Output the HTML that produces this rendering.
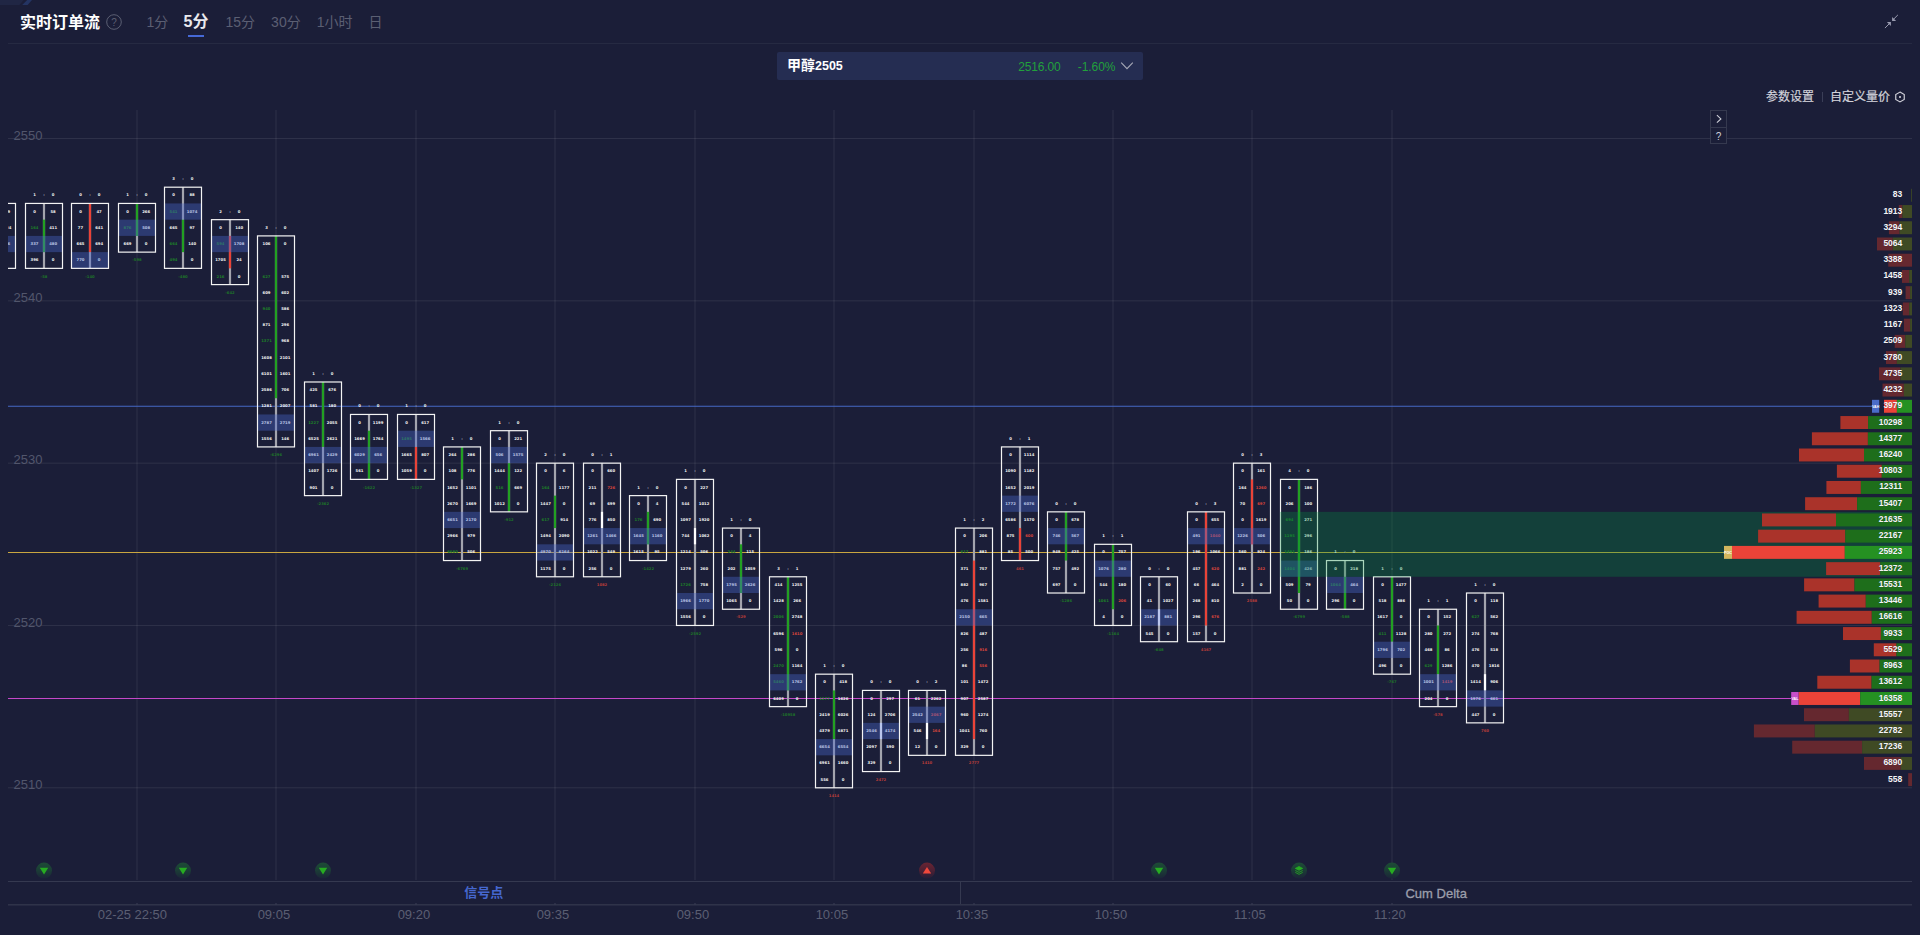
<!DOCTYPE html>
<html lang="zh-CN">
<head>
<meta charset="utf-8">
<title>实时订单流</title>
<style>
html,body{margin:0;padding:0;background:#1b1e38;}
body{width:1920px;height:935px;overflow:hidden;position:relative;font-family:"Liberation Sans","Noto Sans CJK SC",sans-serif;color:#fff;}
#chart{position:absolute;left:0;top:0;display:block;}
#chart .n text{font-family:"DejaVu Sans","Liberation Sans",sans-serif;font-weight:bold;font-size:3.8px;text-anchor:middle;}
#chart text.d{font-family:"DejaVu Sans","Liberation Sans",sans-serif;font-weight:bold;font-size:3.75px;text-anchor:middle;}
.hdr{position:absolute;left:0;top:0;width:1920px;height:44px;}
.hdr .line{position:absolute;left:8px;top:43px;width:1904px;height:1px;background:#262a42;}
.deco{position:absolute;left:0;top:0;}
.title{position:absolute;left:20px;top:10.5px;height:24px;line-height:24px;font-size:16px;font-weight:bold;color:#fff;letter-spacing:0;}
.qm{position:absolute;left:106px;top:14px;}
.tabs{position:absolute;left:146.5px;top:10px;height:24px;line-height:24px;font-size:14px;color:#5b5f73;white-space:nowrap;}
.tabs span{display:inline-block;margin-right:16px;position:relative;vertical-align:top;}
.tabs span.on{color:#e9e9ee;font-weight:bold;font-size:16px;margin-left:-0.7px;margin-right:17px;}
.tabs span.on i{position:absolute;left:50%;bottom:-3px;width:16px;height:2px;margin-left:-8.3px;background:#4669d6;}
.fold{position:absolute;left:1883px;top:13px;}
.sel{position:absolute;left:777px;top:52px;width:366px;height:28px;background:#252d52;border-radius:2px;}
.sel .nm{position:absolute;left:10px;top:0;line-height:27px;font-size:14px;font-weight:bold;color:#fff;}
.sel .nm b{font-size:12.5px;}
.sel .px{position:absolute;right:82.5px;top:0;line-height:31px;font-size:12px;letter-spacing:-0.15px;color:#22a03c;}
.sel .pc{position:absolute;right:27.5px;top:0;line-height:31px;font-size:12px;letter-spacing:-0.05px;color:#22a03c;}
.sel svg{position:absolute;left:343px;top:9px;}
.tools{position:absolute;right:0;top:88px;height:18px;line-height:18px;font-size:12px;color:#d2d2da;white-space:nowrap;-webkit-text-stroke:0.2px #d2d2da;}
.tools span{position:absolute;top:0;}
.btn{position:absolute;left:1710px;width:15px;height:15px;border:1px solid #35394f;background:#1b1e38;}
</style>
</head>
<body>
<svg id="chart" width="1920" height="935" viewBox="0 0 1920 935">
<defs><clipPath id="cp"><rect x="8" y="100" width="1904" height="790"/></clipPath><linearGradient id="gg" x1="0" y1="0" x2="0" y2="1"><stop offset="0" stop-color="#1d4c36"/><stop offset="0.5" stop-color="#1b3c36"/><stop offset="1" stop-color="#1b2438"/></linearGradient><linearGradient id="gr" x1="0" y1="0" x2="0" y2="1"><stop offset="0" stop-color="#6a2432"/><stop offset="0.5" stop-color="#4c2034"/><stop offset="1" stop-color="#241e38"/></linearGradient></defs>
<g stroke="#ffffff" stroke-opacity="0.085" stroke-width="1">
<line x1="8" y1="138.5" x2="1912" y2="138.5"/>
<line x1="8" y1="300.83" x2="1912" y2="300.83"/>
<line x1="8" y1="463.15" x2="1912" y2="463.15"/>
<line x1="8" y1="625.48" x2="1912" y2="625.48"/>
<line x1="8" y1="787.8" x2="1912" y2="787.8"/>
</g>
<g stroke="#ffffff" stroke-opacity="0.085" stroke-width="1">
<line x1="137" y1="110" x2="137" y2="880"/>
<line x1="276" y1="110" x2="276" y2="880"/>
<line x1="416" y1="110" x2="416" y2="880"/>
<line x1="555" y1="110" x2="555" y2="880"/>
<line x1="695" y1="110" x2="695" y2="880"/>
<line x1="834" y1="110" x2="834" y2="880"/>
<line x1="974" y1="110" x2="974" y2="880"/>
<line x1="1113" y1="110" x2="1113" y2="880"/>
<line x1="1252" y1="110" x2="1252" y2="880"/>
<line x1="1392" y1="110" x2="1392" y2="880"/>
</g>
<g font-family="'Liberation Sans', sans-serif" font-size="13" fill="#52566c">
<text x="13.6" y="140">2550</text>
<text x="13.6" y="302">2540</text>
<text x="13.6" y="464">2530</text>
<text x="13.6" y="627">2520</text>
<text x="13.6" y="789">2510</text>
</g>
<line x1="8" y1="406.34" x2="1872" y2="406.34" stroke="#4668c4" stroke-width="1.05"/>
<line x1="8" y1="552.43" x2="1724" y2="552.43" stroke="#c9a640" stroke-width="1.05"/>
<line x1="8" y1="698.52" x2="1791" y2="698.52" stroke="#c548c8" stroke-width="1.05"/>
<g clip-path="url(#cp)">
<g><rect x="-4.1" y="203.43" width="2.2" height="64.93" fill="#a3a4ad"/><g class="n"><text x="-12.5" y="213" fill="#f2f2f2">0</text><text x="6.1" y="213" fill="#f2f2f2">159</text><text x="-12.5" y="229" fill="#f2f2f2">52</text><text x="6.1" y="229" fill="#f2f2f2">1824</text><text x="-12.5" y="245" fill="#f2f2f2">120</text><text x="6.1" y="245" fill="#f2f2f2">386</text><text x="-12.5" y="261" fill="#f2f2f2">77</text><text x="6.1" y="261" fill="#f2f2f2">0</text></g><rect x="-21.5" y="235.9" width="37" height="16.23" fill="#4a6ad0" fill-opacity="0.38"/><rect x="-21.5" y="203.43" width="37" height="64.93" fill="none" stroke="#f4f4f4" stroke-width="1.2"/></g>
<g><rect x="42.9" y="203.43" width="2.2" height="64.93" fill="#a3a4ad"/><rect x="42.9" y="219.66" width="2.2" height="32.47" fill="#22a022"/><g class="n"><text x="34.5" y="213" fill="#f2f2f2">0</text><text x="53.1" y="213" fill="#f2f2f2">58</text><text x="34.5" y="229" fill="#1d7f28">164</text><text x="53.1" y="229" fill="#f2f2f2">411</text><text x="34.5" y="245" fill="#f2f2f2">337</text><text x="53.1" y="245" fill="#f2f2f2">480</text><text x="34.5" y="261" fill="#f2f2f2">396</text><text x="53.1" y="261" fill="#f2f2f2">0</text></g><rect x="25.5" y="235.9" width="37" height="16.23" fill="#4a6ad0" fill-opacity="0.38"/><rect x="25.5" y="203.43" width="37" height="64.93" fill="none" stroke="#f4f4f4" stroke-width="1.2"/><g class="n"><text x="34.5" y="196" fill="#f2f2f2">1</text><text x="44" y="196" fill="#9a9dad">:</text><text x="53.1" y="196" fill="#f2f2f2">0</text></g><text class="d" x="44" y="278" fill="#1e7428">-58</text></g>
<g><rect x="88.9" y="203.43" width="2.2" height="64.93" fill="#a3a4ad"/><rect x="88.9" y="203.43" width="2.2" height="48.7" fill="#ea4338"/><g class="n"><text x="80.5" y="213" fill="#f2f2f2">0</text><text x="99.1" y="213" fill="#f2f2f2">47</text><text x="80.5" y="229" fill="#f2f2f2">77</text><text x="99.1" y="229" fill="#f2f2f2">641</text><text x="80.5" y="245" fill="#f2f2f2">665</text><text x="99.1" y="245" fill="#f2f2f2">694</text><text x="80.5" y="261" fill="#f2f2f2">770</text><text x="99.1" y="261" fill="#f2f2f2">0</text></g><rect x="71.5" y="252.13" width="37" height="16.23" fill="#4a6ad0" fill-opacity="0.38"/><rect x="71.5" y="203.43" width="37" height="64.93" fill="none" stroke="#f4f4f4" stroke-width="1.2"/><g class="n"><text x="80.5" y="196" fill="#f2f2f2">0</text><text x="90" y="196" fill="#9a9dad">:</text><text x="99.1" y="196" fill="#f2f2f2">0</text></g><text class="d" x="90" y="278" fill="#1e7428">-140</text></g>
<g><rect x="135.9" y="203.43" width="2.2" height="48.7" fill="#a3a4ad"/><rect x="135.9" y="203.43" width="2.2" height="32.47" fill="#22a022"/><g class="n"><text x="127.5" y="213" fill="#f2f2f2">0</text><text x="146.1" y="213" fill="#f2f2f2">266</text><text x="127.5" y="229" fill="#1d7f28">876</text><text x="146.1" y="229" fill="#f2f2f2">508</text><text x="127.5" y="245" fill="#f2f2f2">669</text><text x="146.1" y="245" fill="#f2f2f2">0</text></g><rect x="118.5" y="219.66" width="37" height="16.23" fill="#4a6ad0" fill-opacity="0.38"/><rect x="118.5" y="203.43" width="37" height="48.7" fill="none" stroke="#f4f4f4" stroke-width="1.2"/><g class="n"><text x="127.5" y="196" fill="#f2f2f2">1</text><text x="137" y="196" fill="#9a9dad">:</text><text x="146.1" y="196" fill="#f2f2f2">0</text></g><text class="d" x="137" y="261" fill="#1e7428">-598</text></g>
<g><rect x="181.9" y="187.2" width="2.2" height="81.16" fill="#a3a4ad"/><rect x="181.9" y="219.66" width="2.2" height="32.47" fill="#22a022"/><g class="n"><text x="173.5" y="196" fill="#f2f2f2">0</text><text x="192.1" y="196" fill="#f2f2f2">88</text><text x="173.5" y="213" fill="#1d7f28">541</text><text x="192.1" y="213" fill="#f2f2f2">1074</text><text x="173.5" y="229" fill="#f2f2f2">665</text><text x="192.1" y="229" fill="#f2f2f2">97</text><text x="173.5" y="245" fill="#1d7f28">664</text><text x="192.1" y="245" fill="#f2f2f2">140</text><text x="173.5" y="261" fill="#1d7f28">494</text><text x="192.1" y="261" fill="#f2f2f2">0</text></g><rect x="164.5" y="203.43" width="37" height="16.23" fill="#4a6ad0" fill-opacity="0.38"/><rect x="164.5" y="187.2" width="37" height="81.16" fill="none" stroke="#f4f4f4" stroke-width="1.2"/><g class="n"><text x="173.5" y="180" fill="#f2f2f2">3</text><text x="183" y="180" fill="#9a9dad">:</text><text x="192.1" y="180" fill="#f2f2f2">0</text></g><text class="d" x="183" y="278" fill="#1e7428">-480</text></g>
<g><rect x="228.9" y="219.66" width="2.2" height="64.93" fill="#a3a4ad"/><rect x="228.9" y="235.9" width="2.2" height="32.47" fill="#ea4338"/><g class="n"><text x="220.5" y="229" fill="#f2f2f2">0</text><text x="239.1" y="229" fill="#f2f2f2">140</text><text x="220.5" y="245" fill="#1d7f28">594</text><text x="239.1" y="245" fill="#f2f2f2">1708</text><text x="220.5" y="261" fill="#f2f2f2">1705</text><text x="239.1" y="261" fill="#f2f2f2">24</text><text x="220.5" y="278" fill="#1d7f28">216</text><text x="239.1" y="278" fill="#f2f2f2">0</text></g><rect x="211.5" y="235.9" width="37" height="16.23" fill="#4a6ad0" fill-opacity="0.38"/><rect x="211.5" y="219.66" width="37" height="64.93" fill="none" stroke="#f4f4f4" stroke-width="1.2"/><g class="n"><text x="220.5" y="213" fill="#f2f2f2">2</text><text x="230" y="213" fill="#9a9dad">:</text><text x="239.1" y="213" fill="#f2f2f2">0</text></g><text class="d" x="230" y="294" fill="#1e7428">-642</text></g>
<g><rect x="274.9" y="235.9" width="2.2" height="211.02" fill="#a3a4ad"/><rect x="274.9" y="235.9" width="2.2" height="162.33" fill="#22a022"/><g class="n"><text x="266.5" y="245" fill="#f2f2f2">106</text><text x="285.1" y="245" fill="#f2f2f2">0</text><text x="266.5" y="278" fill="#1d7f28">627</text><text x="285.1" y="278" fill="#f2f2f2">575</text><text x="266.5" y="294" fill="#f2f2f2">609</text><text x="285.1" y="294" fill="#f2f2f2">602</text><text x="266.5" y="310" fill="#1d7f28">940</text><text x="285.1" y="310" fill="#f2f2f2">586</text><text x="266.5" y="326" fill="#f2f2f2">871</text><text x="285.1" y="326" fill="#f2f2f2">296</text><text x="266.5" y="342" fill="#1d7f28">1371</text><text x="285.1" y="342" fill="#f2f2f2">968</text><text x="266.5" y="359" fill="#f2f2f2">1608</text><text x="285.1" y="359" fill="#f2f2f2">2101</text><text x="266.5" y="375" fill="#f2f2f2">6101</text><text x="285.1" y="375" fill="#f2f2f2">1601</text><text x="266.5" y="391" fill="#f2f2f2">2586</text><text x="285.1" y="391" fill="#f2f2f2">706</text><text x="266.5" y="407" fill="#f2f2f2">1281</text><text x="285.1" y="407" fill="#f2f2f2">2007</text><text x="266.5" y="424" fill="#f2f2f2">2787</text><text x="285.1" y="424" fill="#f2f2f2">2719</text><text x="266.5" y="440" fill="#f2f2f2">1556</text><text x="285.1" y="440" fill="#f2f2f2">146</text></g><rect x="257.5" y="414.45" width="37" height="16.23" fill="#4a6ad0" fill-opacity="0.38"/><rect x="257.5" y="235.9" width="37" height="211.02" fill="none" stroke="#f4f4f4" stroke-width="1.2"/><g class="n"><text x="266.5" y="229" fill="#f2f2f2">3</text><text x="276" y="229" fill="#9a9dad">:</text><text x="285.1" y="229" fill="#f2f2f2">0</text></g><text class="d" x="276" y="456" fill="#1e7428">-6296</text></g>
<g><rect x="321.9" y="381.99" width="2.2" height="113.63" fill="#a3a4ad"/><rect x="321.9" y="381.99" width="2.2" height="64.93" fill="#22a022"/><g class="n"><text x="313.5" y="391" fill="#f2f2f2">425</text><text x="332.1" y="391" fill="#f2f2f2">676</text><text x="313.5" y="407" fill="#f2f2f2">581</text><text x="332.1" y="407" fill="#f2f2f2">180</text><text x="313.5" y="424" fill="#1d7f28">1227</text><text x="332.1" y="424" fill="#f2f2f2">2055</text><text x="313.5" y="440" fill="#f2f2f2">6525</text><text x="332.1" y="440" fill="#f2f2f2">2621</text><text x="313.5" y="456" fill="#f2f2f2">6961</text><text x="332.1" y="456" fill="#f2f2f2">2429</text><text x="313.5" y="472" fill="#f2f2f2">1407</text><text x="332.1" y="472" fill="#f2f2f2">1726</text><text x="313.5" y="489" fill="#f2f2f2">901</text><text x="332.1" y="489" fill="#f2f2f2">0</text></g><rect x="304.5" y="446.92" width="37" height="16.23" fill="#4a6ad0" fill-opacity="0.38"/><rect x="304.5" y="381.99" width="37" height="113.63" fill="none" stroke="#f4f4f4" stroke-width="1.2"/><g class="n"><text x="313.5" y="375" fill="#f2f2f2">1</text><text x="323" y="375" fill="#9a9dad">:</text><text x="332.1" y="375" fill="#f2f2f2">0</text></g><text class="d" x="323" y="505" fill="#1e7428">-2362</text></g>
<g><rect x="367.9" y="414.45" width="2.2" height="64.93" fill="#a3a4ad"/><rect x="367.9" y="430.69" width="2.2" height="48.7" fill="#22a022"/><g class="n"><text x="359.5" y="424" fill="#f2f2f2">0</text><text x="378.1" y="424" fill="#f2f2f2">1199</text><text x="359.5" y="440" fill="#f2f2f2">1669</text><text x="378.1" y="440" fill="#f2f2f2">1764</text><text x="359.5" y="456" fill="#f2f2f2">6029</text><text x="378.1" y="456" fill="#f2f2f2">656</text><text x="359.5" y="472" fill="#f2f2f2">561</text><text x="378.1" y="472" fill="#f2f2f2">0</text></g><rect x="350.5" y="446.92" width="37" height="16.23" fill="#4a6ad0" fill-opacity="0.38"/><rect x="350.5" y="414.45" width="37" height="64.93" fill="none" stroke="#f4f4f4" stroke-width="1.2"/><g class="n"><text x="359.5" y="407" fill="#f2f2f2">0</text><text x="369" y="407" fill="#9a9dad">:</text><text x="378.1" y="407" fill="#f2f2f2">0</text></g><text class="d" x="369" y="489" fill="#1e7428">-1622</text></g>
<g><rect x="414.9" y="414.45" width="2.2" height="64.93" fill="#a3a4ad"/><rect x="414.9" y="446.92" width="2.2" height="32.47" fill="#ea4338"/><g class="n"><text x="406.5" y="424" fill="#f2f2f2">0</text><text x="425.1" y="424" fill="#f2f2f2">617</text><text x="406.5" y="440" fill="#1d7f28">1495</text><text x="425.1" y="440" fill="#f2f2f2">1566</text><text x="406.5" y="456" fill="#f2f2f2">1665</text><text x="425.1" y="456" fill="#f2f2f2">807</text><text x="406.5" y="472" fill="#f2f2f2">1059</text><text x="425.1" y="472" fill="#f2f2f2">0</text></g><rect x="397.5" y="430.69" width="37" height="16.23" fill="#4a6ad0" fill-opacity="0.38"/><rect x="397.5" y="414.45" width="37" height="64.93" fill="none" stroke="#f4f4f4" stroke-width="1.2"/><g class="n"><text x="406.5" y="407" fill="#f2f2f2">1</text><text x="416" y="407" fill="#9a9dad">:</text><text x="425.1" y="407" fill="#f2f2f2">0</text></g><text class="d" x="416" y="489" fill="#1e7428">-1327</text></g>
<g><rect x="460.9" y="446.92" width="2.2" height="113.63" fill="#a3a4ad"/><rect x="460.9" y="446.92" width="2.2" height="32.47" fill="#22a022"/><g class="n"><text x="452.5" y="456" fill="#f2f2f2">264</text><text x="471.1" y="456" fill="#f2f2f2">286</text><text x="452.5" y="472" fill="#f2f2f2">108</text><text x="471.1" y="472" fill="#f2f2f2">776</text><text x="452.5" y="489" fill="#f2f2f2">1652</text><text x="471.1" y="489" fill="#f2f2f2">1101</text><text x="452.5" y="505" fill="#f2f2f2">2670</text><text x="471.1" y="505" fill="#f2f2f2">1669</text><text x="452.5" y="521" fill="#f2f2f2">6651</text><text x="471.1" y="521" fill="#f2f2f2">2170</text><text x="452.5" y="537" fill="#f2f2f2">2966</text><text x="471.1" y="537" fill="#f2f2f2">979</text><text x="452.5" y="553" fill="#1d7f28">6680</text><text x="471.1" y="553" fill="#f2f2f2">506</text></g><rect x="443.5" y="511.85" width="37" height="16.23" fill="#4a6ad0" fill-opacity="0.38"/><rect x="443.5" y="446.92" width="37" height="113.63" fill="none" stroke="#f4f4f4" stroke-width="1.2"/><g class="n"><text x="452.5" y="440" fill="#f2f2f2">1</text><text x="462" y="440" fill="#9a9dad">:</text><text x="471.1" y="440" fill="#f2f2f2">0</text></g><text class="d" x="462" y="570" fill="#1e7428">-6769</text></g>
<g><rect x="507.9" y="430.69" width="2.2" height="81.16" fill="#a3a4ad"/><rect x="507.9" y="463.15" width="2.2" height="48.7" fill="#22a022"/><g class="n"><text x="499.5" y="440" fill="#f2f2f2">0</text><text x="518.1" y="440" fill="#f2f2f2">221</text><text x="499.5" y="456" fill="#f2f2f2">506</text><text x="518.1" y="456" fill="#f2f2f2">1575</text><text x="499.5" y="472" fill="#f2f2f2">1444</text><text x="518.1" y="472" fill="#f2f2f2">122</text><text x="499.5" y="489" fill="#1d7f28">516</text><text x="518.1" y="489" fill="#f2f2f2">669</text><text x="499.5" y="505" fill="#f2f2f2">1012</text><text x="518.1" y="505" fill="#f2f2f2">0</text></g><rect x="490.5" y="446.92" width="37" height="16.23" fill="#4a6ad0" fill-opacity="0.38"/><rect x="490.5" y="430.69" width="37" height="81.16" fill="none" stroke="#f4f4f4" stroke-width="1.2"/><g class="n"><text x="499.5" y="424" fill="#f2f2f2">1</text><text x="509" y="424" fill="#9a9dad">:</text><text x="518.1" y="424" fill="#f2f2f2">0</text></g><text class="d" x="509" y="521" fill="#1e7428">-912</text></g>
<g><rect x="553.9" y="463.15" width="2.2" height="113.63" fill="#a3a4ad"/><rect x="553.9" y="495.62" width="2.2" height="32.47" fill="#22a022"/><g class="n"><text x="545.5" y="472" fill="#f2f2f2">0</text><text x="564.1" y="472" fill="#f2f2f2">6</text><text x="545.5" y="489" fill="#1d7f28">164</text><text x="564.1" y="489" fill="#f2f2f2">1177</text><text x="545.5" y="505" fill="#f2f2f2">1447</text><text x="564.1" y="505" fill="#f2f2f2">0</text><text x="545.5" y="521" fill="#1d7f28">617</text><text x="564.1" y="521" fill="#f2f2f2">914</text><text x="545.5" y="537" fill="#f2f2f2">1494</text><text x="564.1" y="537" fill="#f2f2f2">2090</text><text x="545.5" y="553" fill="#f2f2f2">4970</text><text x="564.1" y="553" fill="#f2f2f2">6164</text><text x="545.5" y="570" fill="#f2f2f2">1175</text><text x="564.1" y="570" fill="#f2f2f2">0</text></g><rect x="536.5" y="544.31" width="37" height="16.23" fill="#4a6ad0" fill-opacity="0.38"/><rect x="536.5" y="463.15" width="37" height="113.63" fill="none" stroke="#f4f4f4" stroke-width="1.2"/><g class="n"><text x="545.5" y="456" fill="#f2f2f2">2</text><text x="555" y="456" fill="#9a9dad">:</text><text x="564.1" y="456" fill="#f2f2f2">0</text></g><text class="d" x="555" y="586" fill="#1e7428">-2126</text></g>
<g><rect x="600.9" y="463.15" width="2.2" height="113.63" fill="#a3a4ad"/><rect x="600.9" y="511.85" width="2.2" height="16.23" fill="#ffffff"/><g class="n"><text x="592.5" y="472" fill="#f2f2f2">0</text><text x="611.1" y="472" fill="#f2f2f2">660</text><text x="592.5" y="489" fill="#f2f2f2">211</text><text x="611.1" y="489" fill="#d8453c">726</text><text x="592.5" y="505" fill="#f2f2f2">69</text><text x="611.1" y="505" fill="#f2f2f2">699</text><text x="592.5" y="521" fill="#f2f2f2">776</text><text x="611.1" y="521" fill="#f2f2f2">850</text><text x="592.5" y="537" fill="#f2f2f2">1261</text><text x="611.1" y="537" fill="#f2f2f2">1466</text><text x="592.5" y="553" fill="#f2f2f2">1022</text><text x="611.1" y="553" fill="#f2f2f2">549</text><text x="592.5" y="570" fill="#f2f2f2">256</text><text x="611.1" y="570" fill="#f2f2f2">0</text></g><rect x="583.5" y="528.08" width="37" height="16.23" fill="#4a6ad0" fill-opacity="0.38"/><rect x="583.5" y="463.15" width="37" height="113.63" fill="none" stroke="#f4f4f4" stroke-width="1.2"/><g class="n"><text x="592.5" y="456" fill="#f2f2f2">0</text><text x="602" y="456" fill="#9a9dad">:</text><text x="611.1" y="456" fill="#f2f2f2">1</text></g><text class="d" x="602" y="586" fill="#b93d38">1082</text></g>
<g><rect x="646.9" y="495.62" width="2.2" height="64.93" fill="#a3a4ad"/><rect x="646.9" y="511.85" width="2.2" height="32.47" fill="#22a022"/><g class="n"><text x="638.5" y="505" fill="#f2f2f2">0</text><text x="657.1" y="505" fill="#f2f2f2">4</text><text x="638.5" y="521" fill="#1d7f28">176</text><text x="657.1" y="521" fill="#f2f2f2">690</text><text x="638.5" y="537" fill="#f2f2f2">1645</text><text x="657.1" y="537" fill="#f2f2f2">1160</text><text x="638.5" y="553" fill="#f2f2f2">1615</text><text x="657.1" y="553" fill="#f2f2f2">95</text></g><rect x="629.5" y="528.08" width="37" height="16.23" fill="#4a6ad0" fill-opacity="0.38"/><rect x="629.5" y="495.62" width="37" height="64.93" fill="none" stroke="#f4f4f4" stroke-width="1.2"/><g class="n"><text x="638.5" y="489" fill="#f2f2f2">1</text><text x="648" y="489" fill="#9a9dad">:</text><text x="657.1" y="489" fill="#f2f2f2">0</text></g><text class="d" x="648" y="570" fill="#1e7428">-1422</text></g>
<g><rect x="693.9" y="479.38" width="2.2" height="146.09" fill="#a3a4ad"/><rect x="693.9" y="528.08" width="2.2" height="16.23" fill="#ffffff"/><g class="n"><text x="685.5" y="489" fill="#f2f2f2">0</text><text x="704.1" y="489" fill="#f2f2f2">227</text><text x="685.5" y="505" fill="#f2f2f2">544</text><text x="704.1" y="505" fill="#f2f2f2">1012</text><text x="685.5" y="521" fill="#f2f2f2">1097</text><text x="704.1" y="521" fill="#f2f2f2">1920</text><text x="685.5" y="537" fill="#f2f2f2">744</text><text x="704.1" y="537" fill="#f2f2f2">1062</text><text x="685.5" y="553" fill="#f2f2f2">1214</text><text x="704.1" y="553" fill="#f2f2f2">506</text><text x="685.5" y="570" fill="#f2f2f2">1279</text><text x="704.1" y="570" fill="#f2f2f2">260</text><text x="685.5" y="586" fill="#1d7f28">1726</text><text x="704.1" y="586" fill="#f2f2f2">758</text><text x="685.5" y="602" fill="#f2f2f2">1966</text><text x="704.1" y="602" fill="#f2f2f2">1770</text><text x="685.5" y="618" fill="#f2f2f2">1556</text><text x="704.1" y="618" fill="#f2f2f2">0</text></g><rect x="676.5" y="593.01" width="37" height="16.23" fill="#4a6ad0" fill-opacity="0.38"/><rect x="676.5" y="479.38" width="37" height="146.09" fill="none" stroke="#f4f4f4" stroke-width="1.2"/><g class="n"><text x="685.5" y="472" fill="#f2f2f2">1</text><text x="695" y="472" fill="#9a9dad">:</text><text x="704.1" y="472" fill="#f2f2f2">0</text></g><text class="d" x="695" y="635" fill="#1e7428">-2592</text></g>
<g><rect x="739.9" y="528.08" width="2.2" height="81.16" fill="#a3a4ad"/><rect x="739.9" y="544.31" width="2.2" height="48.7" fill="#22a022"/><g class="n"><text x="731.5" y="537" fill="#f2f2f2">0</text><text x="750.1" y="537" fill="#f2f2f2">4</text><text x="731.5" y="553" fill="#1d7f28">244</text><text x="750.1" y="553" fill="#f2f2f2">115</text><text x="731.5" y="570" fill="#f2f2f2">202</text><text x="750.1" y="570" fill="#f2f2f2">1059</text><text x="731.5" y="586" fill="#f2f2f2">1795</text><text x="750.1" y="586" fill="#f2f2f2">2626</text><text x="731.5" y="602" fill="#f2f2f2">1065</text><text x="750.1" y="602" fill="#f2f2f2">0</text></g><rect x="722.5" y="576.78" width="37" height="16.23" fill="#4a6ad0" fill-opacity="0.38"/><rect x="722.5" y="528.08" width="37" height="81.16" fill="none" stroke="#f4f4f4" stroke-width="1.2"/><g class="n"><text x="731.5" y="521" fill="#f2f2f2">1</text><text x="741" y="521" fill="#9a9dad">:</text><text x="750.1" y="521" fill="#f2f2f2">0</text></g><text class="d" x="741" y="618" fill="#b93d38">-529</text></g>
<g><rect x="786.9" y="576.78" width="2.2" height="129.86" fill="#a3a4ad"/><rect x="786.9" y="576.78" width="2.2" height="113.63" fill="#22a022"/><g class="n"><text x="778.5" y="586" fill="#f2f2f2">414</text><text x="797.1" y="586" fill="#f2f2f2">1255</text><text x="778.5" y="602" fill="#f2f2f2">1428</text><text x="797.1" y="602" fill="#f2f2f2">266</text><text x="778.5" y="618" fill="#1d7f28">2006</text><text x="797.1" y="618" fill="#f2f2f2">2748</text><text x="778.5" y="635" fill="#f2f2f2">6596</text><text x="797.1" y="635" fill="#d8453c">1610</text><text x="778.5" y="651" fill="#f2f2f2">596</text><text x="797.1" y="651" fill="#f2f2f2">0</text><text x="778.5" y="667" fill="#1d7f28">2470</text><text x="797.1" y="667" fill="#f2f2f2">1164</text><text x="778.5" y="683" fill="#1d7f28">5460</text><text x="797.1" y="683" fill="#f2f2f2">1762</text><text x="778.5" y="700" fill="#f2f2f2">6409</text><text x="797.1" y="700" fill="#f2f2f2">0</text></g><rect x="769.5" y="674.17" width="37" height="16.23" fill="#4a6ad0" fill-opacity="0.38"/><rect x="769.5" y="576.78" width="37" height="129.86" fill="none" stroke="#f4f4f4" stroke-width="1.2"/><g class="n"><text x="778.5" y="570" fill="#f2f2f2">3</text><text x="788" y="570" fill="#9a9dad">:</text><text x="797.1" y="570" fill="#f2f2f2">1</text></g><text class="d" x="788" y="716" fill="#1e7428">-10958</text></g>
<g><rect x="832.9" y="674.17" width="2.2" height="113.63" fill="#a3a4ad"/><rect x="832.9" y="690.4" width="2.2" height="48.7" fill="#22a022"/><g class="n"><text x="824.5" y="683" fill="#f2f2f2">0</text><text x="843.1" y="683" fill="#f2f2f2">418</text><text x="824.5" y="700" fill="#1d7f28">1277</text><text x="843.1" y="700" fill="#f2f2f2">1626</text><text x="824.5" y="716" fill="#f2f2f2">2419</text><text x="843.1" y="716" fill="#f2f2f2">6026</text><text x="824.5" y="732" fill="#f2f2f2">4379</text><text x="843.1" y="732" fill="#f2f2f2">6871</text><text x="824.5" y="748" fill="#f2f2f2">6654</text><text x="843.1" y="748" fill="#f2f2f2">6554</text><text x="824.5" y="764" fill="#f2f2f2">6961</text><text x="843.1" y="764" fill="#f2f2f2">1660</text><text x="824.5" y="781" fill="#f2f2f2">556</text><text x="843.1" y="781" fill="#f2f2f2">0</text></g><rect x="815.5" y="739.1" width="37" height="16.23" fill="#4a6ad0" fill-opacity="0.38"/><rect x="815.5" y="674.17" width="37" height="113.63" fill="none" stroke="#f4f4f4" stroke-width="1.2"/><g class="n"><text x="824.5" y="667" fill="#f2f2f2">1</text><text x="834" y="667" fill="#9a9dad">:</text><text x="843.1" y="667" fill="#f2f2f2">0</text></g><text class="d" x="834" y="797" fill="#b93d38">1414</text></g>
<g><rect x="879.9" y="690.41" width="2.2" height="81.16" fill="#a3a4ad"/><rect x="879.9" y="722.87" width="2.2" height="16.23" fill="#ffffff"/><g class="n"><text x="871.5" y="700" fill="#f2f2f2">0</text><text x="890.1" y="700" fill="#f2f2f2">297</text><text x="871.5" y="716" fill="#f2f2f2">124</text><text x="890.1" y="716" fill="#f2f2f2">2706</text><text x="871.5" y="732" fill="#f2f2f2">2546</text><text x="890.1" y="732" fill="#f2f2f2">4174</text><text x="871.5" y="748" fill="#f2f2f2">2097</text><text x="890.1" y="748" fill="#f2f2f2">590</text><text x="871.5" y="764" fill="#f2f2f2">329</text><text x="890.1" y="764" fill="#f2f2f2">0</text></g><rect x="862.5" y="722.87" width="37" height="16.23" fill="#4a6ad0" fill-opacity="0.38"/><rect x="862.5" y="690.41" width="37" height="81.16" fill="none" stroke="#f4f4f4" stroke-width="1.2"/><g class="n"><text x="871.5" y="683" fill="#f2f2f2">0</text><text x="881" y="683" fill="#9a9dad">:</text><text x="890.1" y="683" fill="#f2f2f2">0</text></g><text class="d" x="881" y="781" fill="#b93d38">2472</text></g>
<g><rect x="925.9" y="690.41" width="2.2" height="64.93" fill="#a3a4ad"/><rect x="925.9" y="722.87" width="2.2" height="16.23" fill="#ffffff"/><g class="n"><text x="917.5" y="700" fill="#f2f2f2">61</text><text x="936.1" y="700" fill="#f2f2f2">2262</text><text x="917.5" y="716" fill="#f2f2f2">2542</text><text x="936.1" y="716" fill="#d8453c">2067</text><text x="917.5" y="732" fill="#f2f2f2">546</text><text x="936.1" y="732" fill="#d8453c">164</text><text x="917.5" y="748" fill="#f2f2f2">12</text><text x="936.1" y="748" fill="#f2f2f2">0</text></g><rect x="908.5" y="706.64" width="37" height="16.23" fill="#4a6ad0" fill-opacity="0.38"/><rect x="908.5" y="690.41" width="37" height="64.93" fill="none" stroke="#f4f4f4" stroke-width="1.2"/><g class="n"><text x="917.5" y="683" fill="#f2f2f2">0</text><text x="927" y="683" fill="#9a9dad">:</text><text x="936.1" y="683" fill="#f2f2f2">2</text></g><text class="d" x="927" y="764" fill="#b93d38">1410</text></g>
<g><rect x="972.9" y="528.08" width="2.2" height="227.26" fill="#a3a4ad"/><rect x="972.9" y="560.55" width="2.2" height="178.56" fill="#ea4338"/><g class="n"><text x="964.5" y="537" fill="#f2f2f2">0</text><text x="983.1" y="537" fill="#f2f2f2">206</text><text x="964.5" y="553" fill="#1d7f28">617</text><text x="983.1" y="553" fill="#f2f2f2">881</text><text x="964.5" y="570" fill="#f2f2f2">371</text><text x="983.1" y="570" fill="#f2f2f2">757</text><text x="964.5" y="586" fill="#f2f2f2">882</text><text x="983.1" y="586" fill="#f2f2f2">967</text><text x="964.5" y="602" fill="#f2f2f2">476</text><text x="983.1" y="602" fill="#f2f2f2">1581</text><text x="964.5" y="618" fill="#f2f2f2">2150</text><text x="983.1" y="618" fill="#f2f2f2">665</text><text x="964.5" y="635" fill="#f2f2f2">826</text><text x="983.1" y="635" fill="#f2f2f2">487</text><text x="964.5" y="651" fill="#f2f2f2">256</text><text x="983.1" y="651" fill="#d8453c">916</text><text x="964.5" y="667" fill="#f2f2f2">86</text><text x="983.1" y="667" fill="#d8453c">556</text><text x="964.5" y="683" fill="#f2f2f2">101</text><text x="983.1" y="683" fill="#f2f2f2">1472</text><text x="964.5" y="700" fill="#f2f2f2">907</text><text x="983.1" y="700" fill="#f2f2f2">2587</text><text x="964.5" y="716" fill="#f2f2f2">960</text><text x="983.1" y="716" fill="#f2f2f2">1274</text><text x="964.5" y="732" fill="#f2f2f2">1041</text><text x="983.1" y="732" fill="#f2f2f2">760</text><text x="964.5" y="748" fill="#f2f2f2">329</text><text x="983.1" y="748" fill="#f2f2f2">0</text></g><rect x="955.5" y="609.24" width="37" height="16.23" fill="#4a6ad0" fill-opacity="0.38"/><rect x="955.5" y="528.08" width="37" height="227.26" fill="none" stroke="#f4f4f4" stroke-width="1.2"/><g class="n"><text x="964.5" y="521" fill="#f2f2f2">1</text><text x="974" y="521" fill="#9a9dad">:</text><text x="983.1" y="521" fill="#f2f2f2">2</text></g><text class="d" x="974" y="764" fill="#b93d38">2777</text></g>
<g><rect x="1018.9" y="446.92" width="2.2" height="113.63" fill="#a3a4ad"/><rect x="1018.9" y="528.08" width="2.2" height="32.47" fill="#ea4338"/><g class="n"><text x="1010.5" y="456" fill="#f2f2f2">0</text><text x="1029.1" y="456" fill="#f2f2f2">1114</text><text x="1010.5" y="472" fill="#f2f2f2">1090</text><text x="1029.1" y="472" fill="#f2f2f2">1182</text><text x="1010.5" y="489" fill="#f2f2f2">1652</text><text x="1029.1" y="489" fill="#f2f2f2">2019</text><text x="1010.5" y="505" fill="#f2f2f2">1772</text><text x="1029.1" y="505" fill="#f2f2f2">6076</text><text x="1010.5" y="521" fill="#f2f2f2">6586</text><text x="1029.1" y="521" fill="#f2f2f2">1570</text><text x="1010.5" y="537" fill="#f2f2f2">875</text><text x="1029.1" y="537" fill="#d8453c">600</text><text x="1010.5" y="553" fill="#f2f2f2">85</text><text x="1029.1" y="553" fill="#f2f2f2">500</text></g><rect x="1001.5" y="495.62" width="37" height="16.23" fill="#4a6ad0" fill-opacity="0.38"/><rect x="1001.5" y="446.92" width="37" height="113.63" fill="none" stroke="#f4f4f4" stroke-width="1.2"/><g class="n"><text x="1010.5" y="440" fill="#f2f2f2">0</text><text x="1020" y="440" fill="#9a9dad">:</text><text x="1029.1" y="440" fill="#f2f2f2">1</text></g><text class="d" x="1020" y="570" fill="#b93d38">461</text></g>
<g><rect x="1064.9" y="511.85" width="2.2" height="81.16" fill="#a3a4ad"/><rect x="1064.9" y="511.85" width="2.2" height="48.7" fill="#22a022"/><g class="n"><text x="1056.5" y="521" fill="#f2f2f2">0</text><text x="1075.1" y="521" fill="#f2f2f2">678</text><text x="1056.5" y="537" fill="#f2f2f2">746</text><text x="1075.1" y="537" fill="#f2f2f2">567</text><text x="1056.5" y="553" fill="#f2f2f2">949</text><text x="1075.1" y="553" fill="#f2f2f2">425</text><text x="1056.5" y="570" fill="#f2f2f2">757</text><text x="1075.1" y="570" fill="#f2f2f2">492</text><text x="1056.5" y="586" fill="#f2f2f2">697</text><text x="1075.1" y="586" fill="#f2f2f2">0</text></g><rect x="1047.5" y="528.08" width="37" height="16.23" fill="#4a6ad0" fill-opacity="0.38"/><rect x="1047.5" y="511.85" width="37" height="81.16" fill="none" stroke="#f4f4f4" stroke-width="1.2"/><g class="n"><text x="1056.5" y="505" fill="#f2f2f2">0</text><text x="1066" y="505" fill="#9a9dad">:</text><text x="1075.1" y="505" fill="#f2f2f2">0</text></g><text class="d" x="1066" y="602" fill="#1e7428">-1286</text></g>
<g><rect x="1111.9" y="544.31" width="2.2" height="81.16" fill="#a3a4ad"/><rect x="1111.9" y="544.31" width="2.2" height="64.93" fill="#22a022"/><g class="n"><text x="1103.5" y="553" fill="#f2f2f2">0</text><text x="1122.1" y="553" fill="#f2f2f2">757</text><text x="1103.5" y="570" fill="#f2f2f2">1076</text><text x="1122.1" y="570" fill="#f2f2f2">280</text><text x="1103.5" y="586" fill="#f2f2f2">544</text><text x="1122.1" y="586" fill="#f2f2f2">180</text><text x="1103.5" y="602" fill="#1d7f28">1061</text><text x="1122.1" y="602" fill="#d8453c">206</text><text x="1103.5" y="618" fill="#f2f2f2">4</text><text x="1122.1" y="618" fill="#f2f2f2">0</text></g><rect x="1094.5" y="560.54" width="37" height="16.23" fill="#4a6ad0" fill-opacity="0.38"/><rect x="1094.5" y="544.31" width="37" height="81.16" fill="none" stroke="#f4f4f4" stroke-width="1.2"/><g class="n"><text x="1103.5" y="537" fill="#f2f2f2">1</text><text x="1113" y="537" fill="#9a9dad">:</text><text x="1122.1" y="537" fill="#f2f2f2">1</text></g><text class="d" x="1113" y="635" fill="#1e7428">-1164</text></g>
<g><rect x="1157.9" y="576.78" width="2.2" height="64.93" fill="#a3a4ad"/><rect x="1157.9" y="609.24" width="2.2" height="16.23" fill="#ffffff"/><g class="n"><text x="1149.5" y="586" fill="#f2f2f2">0</text><text x="1168.1" y="586" fill="#f2f2f2">60</text><text x="1149.5" y="602" fill="#f2f2f2">41</text><text x="1168.1" y="602" fill="#f2f2f2">1027</text><text x="1149.5" y="618" fill="#f2f2f2">2187</text><text x="1168.1" y="618" fill="#f2f2f2">881</text><text x="1149.5" y="635" fill="#f2f2f2">545</text><text x="1168.1" y="635" fill="#f2f2f2">0</text></g><rect x="1140.5" y="609.24" width="37" height="16.23" fill="#4a6ad0" fill-opacity="0.38"/><rect x="1140.5" y="576.78" width="37" height="64.93" fill="none" stroke="#f4f4f4" stroke-width="1.2"/><g class="n"><text x="1149.5" y="570" fill="#f2f2f2">0</text><text x="1159" y="570" fill="#9a9dad">:</text><text x="1168.1" y="570" fill="#f2f2f2">0</text></g><text class="d" x="1159" y="651" fill="#1e7428">-648</text></g>
<g><rect x="1204.9" y="511.85" width="2.2" height="129.86" fill="#a3a4ad"/><rect x="1204.9" y="511.85" width="2.2" height="113.63" fill="#ea4338"/><g class="n"><text x="1196.5" y="521" fill="#f2f2f2">0</text><text x="1215.1" y="521" fill="#f2f2f2">655</text><text x="1196.5" y="537" fill="#f2f2f2">491</text><text x="1215.1" y="537" fill="#d8453c">1040</text><text x="1196.5" y="553" fill="#f2f2f2">196</text><text x="1215.1" y="553" fill="#f2f2f2">1066</text><text x="1196.5" y="570" fill="#f2f2f2">457</text><text x="1215.1" y="570" fill="#d8453c">620</text><text x="1196.5" y="586" fill="#f2f2f2">66</text><text x="1215.1" y="586" fill="#f2f2f2">464</text><text x="1196.5" y="602" fill="#f2f2f2">268</text><text x="1215.1" y="602" fill="#f2f2f2">810</text><text x="1196.5" y="618" fill="#f2f2f2">296</text><text x="1215.1" y="618" fill="#d8453c">676</text><text x="1196.5" y="635" fill="#f2f2f2">157</text><text x="1215.1" y="635" fill="#f2f2f2">0</text></g><rect x="1187.5" y="528.08" width="37" height="16.23" fill="#4a6ad0" fill-opacity="0.38"/><rect x="1187.5" y="511.85" width="37" height="129.86" fill="none" stroke="#f4f4f4" stroke-width="1.2"/><g class="n"><text x="1196.5" y="505" fill="#f2f2f2">0</text><text x="1206" y="505" fill="#9a9dad">:</text><text x="1215.1" y="505" fill="#f2f2f2">3</text></g><text class="d" x="1206" y="651" fill="#b93d38">4167</text></g>
<g><rect x="1250.9" y="463.15" width="2.2" height="129.86" fill="#a3a4ad"/><rect x="1250.9" y="479.38" width="2.2" height="64.93" fill="#ea4338"/><g class="n"><text x="1242.5" y="472" fill="#f2f2f2">0</text><text x="1261.1" y="472" fill="#f2f2f2">161</text><text x="1242.5" y="489" fill="#f2f2f2">164</text><text x="1261.1" y="489" fill="#d8453c">1260</text><text x="1242.5" y="505" fill="#f2f2f2">70</text><text x="1261.1" y="505" fill="#d8453c">697</text><text x="1242.5" y="521" fill="#f2f2f2">0</text><text x="1261.1" y="521" fill="#f2f2f2">1619</text><text x="1242.5" y="537" fill="#f2f2f2">1226</text><text x="1261.1" y="537" fill="#f2f2f2">506</text><text x="1242.5" y="553" fill="#f2f2f2">560</text><text x="1261.1" y="553" fill="#f2f2f2">924</text><text x="1242.5" y="570" fill="#f2f2f2">881</text><text x="1261.1" y="570" fill="#d8453c">242</text><text x="1242.5" y="586" fill="#f2f2f2">2</text><text x="1261.1" y="586" fill="#f2f2f2">0</text></g><rect x="1233.5" y="528.08" width="37" height="16.23" fill="#4a6ad0" fill-opacity="0.38"/><rect x="1233.5" y="463.15" width="37" height="129.86" fill="none" stroke="#f4f4f4" stroke-width="1.2"/><g class="n"><text x="1242.5" y="456" fill="#f2f2f2">0</text><text x="1252" y="456" fill="#9a9dad">:</text><text x="1261.1" y="456" fill="#f2f2f2">3</text></g><text class="d" x="1252" y="602" fill="#b93d38">2588</text></g>
<g><rect x="1297.9" y="479.38" width="2.2" height="129.86" fill="#a3a4ad"/><rect x="1297.9" y="479.38" width="2.2" height="113.63" fill="#22a022"/><g class="n"><text x="1289.5" y="489" fill="#f2f2f2">0</text><text x="1308.1" y="489" fill="#f2f2f2">186</text><text x="1289.5" y="505" fill="#f2f2f2">206</text><text x="1308.1" y="505" fill="#f2f2f2">100</text><text x="1289.5" y="521" fill="#1d7f28">694</text><text x="1308.1" y="521" fill="#f2f2f2">271</text><text x="1289.5" y="537" fill="#1d7f28">1195</text><text x="1308.1" y="537" fill="#f2f2f2">296</text><text x="1289.5" y="553" fill="#1d7f28">1491</text><text x="1308.1" y="553" fill="#f2f2f2">186</text><text x="1289.5" y="570" fill="#1d7f28">1404</text><text x="1308.1" y="570" fill="#f2f2f2">426</text><text x="1289.5" y="586" fill="#f2f2f2">509</text><text x="1308.1" y="586" fill="#f2f2f2">79</text><text x="1289.5" y="602" fill="#f2f2f2">50</text><text x="1308.1" y="602" fill="#f2f2f2">0</text></g><rect x="1280.5" y="560.55" width="37" height="16.23" fill="#4a6ad0" fill-opacity="0.38"/><rect x="1280.5" y="479.38" width="37" height="129.86" fill="none" stroke="#f4f4f4" stroke-width="1.2"/><g class="n"><text x="1289.5" y="472" fill="#f2f2f2">4</text><text x="1299" y="472" fill="#9a9dad">:</text><text x="1308.1" y="472" fill="#f2f2f2">0</text></g><text class="d" x="1299" y="618" fill="#1e7428">-6799</text></g>
<g><rect x="1343.9" y="560.55" width="2.2" height="48.7" fill="#a3a4ad"/><rect x="1343.9" y="576.78" width="2.2" height="32.47" fill="#22a022"/><g class="n"><text x="1335.5" y="570" fill="#f2f2f2">0</text><text x="1354.1" y="570" fill="#f2f2f2">218</text><text x="1335.5" y="586" fill="#1d7f28">1064</text><text x="1354.1" y="586" fill="#f2f2f2">464</text><text x="1335.5" y="602" fill="#f2f2f2">296</text><text x="1354.1" y="602" fill="#f2f2f2">0</text></g><rect x="1326.5" y="576.78" width="37" height="16.23" fill="#4a6ad0" fill-opacity="0.38"/><rect x="1326.5" y="560.55" width="37" height="48.7" fill="none" stroke="#f4f4f4" stroke-width="1.2"/><g class="n"><text x="1335.5" y="553" fill="#f2f2f2">1</text><text x="1345" y="553" fill="#9a9dad">:</text><text x="1354.1" y="553" fill="#f2f2f2">0</text></g><text class="d" x="1345" y="618" fill="#1e7428">-588</text></g>
<g><rect x="1390.9" y="576.78" width="2.2" height="97.4" fill="#a3a4ad"/><rect x="1390.9" y="576.78" width="2.2" height="64.93" fill="#22a022"/><g class="n"><text x="1382.5" y="586" fill="#f2f2f2">0</text><text x="1401.1" y="586" fill="#f2f2f2">1477</text><text x="1382.5" y="602" fill="#f2f2f2">518</text><text x="1401.1" y="602" fill="#f2f2f2">886</text><text x="1382.5" y="618" fill="#f2f2f2">1617</text><text x="1401.1" y="618" fill="#f2f2f2">0</text><text x="1382.5" y="635" fill="#1d7f28">411</text><text x="1401.1" y="635" fill="#f2f2f2">1128</text><text x="1382.5" y="651" fill="#f2f2f2">1796</text><text x="1401.1" y="651" fill="#f2f2f2">702</text><text x="1382.5" y="667" fill="#f2f2f2">496</text><text x="1401.1" y="667" fill="#f2f2f2">0</text></g><rect x="1373.5" y="641.71" width="37" height="16.23" fill="#4a6ad0" fill-opacity="0.38"/><rect x="1373.5" y="576.78" width="37" height="97.4" fill="none" stroke="#f4f4f4" stroke-width="1.2"/><g class="n"><text x="1382.5" y="570" fill="#f2f2f2">1</text><text x="1392" y="570" fill="#9a9dad">:</text><text x="1401.1" y="570" fill="#f2f2f2">0</text></g><text class="d" x="1392" y="683" fill="#1e7428">-767</text></g>
<g><rect x="1436.9" y="609.24" width="2.2" height="97.4" fill="#a3a4ad"/><rect x="1436.9" y="625.48" width="2.2" height="48.7" fill="#22a022"/><g class="n"><text x="1428.5" y="618" fill="#f2f2f2">0</text><text x="1447.1" y="618" fill="#f2f2f2">152</text><text x="1428.5" y="635" fill="#f2f2f2">280</text><text x="1447.1" y="635" fill="#f2f2f2">272</text><text x="1428.5" y="651" fill="#f2f2f2">468</text><text x="1447.1" y="651" fill="#f2f2f2">86</text><text x="1428.5" y="667" fill="#1d7f28">629</text><text x="1447.1" y="667" fill="#f2f2f2">1286</text><text x="1428.5" y="683" fill="#f2f2f2">1001</text><text x="1447.1" y="683" fill="#d8453c">1419</text><text x="1428.5" y="700" fill="#f2f2f2">204</text><text x="1447.1" y="700" fill="#f2f2f2">0</text></g><rect x="1419.5" y="674.17" width="37" height="16.23" fill="#4a6ad0" fill-opacity="0.38"/><rect x="1419.5" y="609.24" width="37" height="97.4" fill="none" stroke="#f4f4f4" stroke-width="1.2"/><g class="n"><text x="1428.5" y="602" fill="#f2f2f2">1</text><text x="1438" y="602" fill="#9a9dad">:</text><text x="1447.1" y="602" fill="#f2f2f2">1</text></g><text class="d" x="1438" y="716" fill="#b93d38">-578</text></g>
<g><rect x="1483.9" y="593.01" width="2.2" height="129.86" fill="#a3a4ad"/><rect x="1483.9" y="674.17" width="2.2" height="16.23" fill="#ffffff"/><g class="n"><text x="1475.5" y="602" fill="#f2f2f2">0</text><text x="1494.1" y="602" fill="#f2f2f2">118</text><text x="1475.5" y="618" fill="#1d7f28">627</text><text x="1494.1" y="618" fill="#f2f2f2">562</text><text x="1475.5" y="635" fill="#f2f2f2">274</text><text x="1494.1" y="635" fill="#f2f2f2">768</text><text x="1475.5" y="651" fill="#f2f2f2">476</text><text x="1494.1" y="651" fill="#f2f2f2">518</text><text x="1475.5" y="667" fill="#f2f2f2">470</text><text x="1494.1" y="667" fill="#f2f2f2">1816</text><text x="1475.5" y="683" fill="#f2f2f2">1414</text><text x="1494.1" y="683" fill="#f2f2f2">906</text><text x="1475.5" y="700" fill="#f2f2f2">1976</text><text x="1494.1" y="700" fill="#f2f2f2">661</text><text x="1475.5" y="716" fill="#f2f2f2">447</text><text x="1494.1" y="716" fill="#f2f2f2">0</text></g><rect x="1466.5" y="690.4" width="37" height="16.23" fill="#4a6ad0" fill-opacity="0.38"/><rect x="1466.5" y="593.01" width="37" height="129.86" fill="none" stroke="#f4f4f4" stroke-width="1.2"/><g class="n"><text x="1475.5" y="586" fill="#f2f2f2">1</text><text x="1485" y="586" fill="#9a9dad">:</text><text x="1494.1" y="586" fill="#f2f2f2">0</text></g><text class="d" x="1485" y="732" fill="#b93d38">760</text></g>
</g>
<rect x="1279.9" y="511.85" width="632.1" height="64.93" fill="#04933f" fill-opacity="0.3"/>
<g>
<rect x="1911.2" y="188.8" width="0.8" height="12.95" fill="#3f4a24"/>
<rect x="1898.8" y="205.03" width="3.6" height="12.95" fill="#65282f"/>
<rect x="1902.4" y="205.03" width="9.6" height="12.95" fill="#3f4a24"/>
<rect x="1888.9" y="221.26" width="10.7" height="12.95" fill="#65282f"/>
<rect x="1899.6" y="221.26" width="12.4" height="12.95" fill="#3f4a24"/>
<rect x="1877" y="237.5" width="15.8" height="12.95" fill="#65282f"/>
<rect x="1892.8" y="237.5" width="19.2" height="12.95" fill="#3f4a24"/>
<rect x="1888.3" y="253.73" width="23.7" height="12.95" fill="#65282f"/>
<rect x="1902" y="269.96" width="7.2" height="12.95" fill="#65282f"/>
<rect x="1909.2" y="269.96" width="2.8" height="12.95" fill="#3f4a24"/>
<rect x="1905.6" y="286.19" width="4.5" height="12.95" fill="#65282f"/>
<rect x="1910.1" y="286.19" width="1.9" height="12.95" fill="#3f4a24"/>
<rect x="1902.8" y="302.43" width="6.4" height="12.95" fill="#65282f"/>
<rect x="1909.2" y="302.43" width="2.8" height="12.95" fill="#3f4a24"/>
<rect x="1903.9" y="318.66" width="6.2" height="12.95" fill="#65282f"/>
<rect x="1910.1" y="318.66" width="1.9" height="12.95" fill="#3f4a24"/>
<rect x="1894.7" y="334.89" width="10.6" height="12.95" fill="#65282f"/>
<rect x="1905.3" y="334.89" width="6.7" height="12.95" fill="#3f4a24"/>
<rect x="1886" y="351.12" width="10.9" height="12.95" fill="#65282f"/>
<rect x="1896.9" y="351.12" width="15.1" height="12.95" fill="#3f4a24"/>
<rect x="1879" y="367.36" width="21.5" height="12.95" fill="#65282f"/>
<rect x="1900.5" y="367.36" width="11.5" height="12.95" fill="#3f4a24"/>
<rect x="1882.5" y="383.59" width="21.4" height="12.95" fill="#65282f"/>
<rect x="1903.9" y="383.59" width="8.1" height="12.95" fill="#3f4a24"/>
<rect x="1884" y="399.82" width="12.9" height="12.95" fill="#ea4338"/>
<rect x="1896.9" y="399.82" width="15.1" height="12.95" fill="#259122"/>
<rect x="1840.4" y="416.05" width="27.7" height="12.95" fill="#aa332a"/>
<rect x="1868.1" y="416.05" width="43.9" height="12.95" fill="#1e6e1b"/>
<rect x="1811.9" y="432.29" width="56" height="12.95" fill="#aa332a"/>
<rect x="1867.9" y="432.29" width="44.1" height="12.95" fill="#1e6e1b"/>
<rect x="1799" y="448.52" width="65" height="12.95" fill="#aa332a"/>
<rect x="1864" y="448.52" width="48" height="12.95" fill="#1e6e1b"/>
<rect x="1836.9" y="464.75" width="44.9" height="12.95" fill="#aa332a"/>
<rect x="1881.8" y="464.75" width="30.2" height="12.95" fill="#1e6e1b"/>
<rect x="1826.4" y="480.98" width="34.5" height="12.95" fill="#aa332a"/>
<rect x="1860.9" y="480.98" width="51.1" height="12.95" fill="#1e6e1b"/>
<rect x="1805.1" y="497.22" width="52" height="12.95" fill="#aa332a"/>
<rect x="1857.1" y="497.22" width="54.9" height="12.95" fill="#1e6e1b"/>
<rect x="1762" y="513.45" width="74" height="12.95" fill="#aa332a"/>
<rect x="1836" y="513.45" width="76" height="12.95" fill="#1e6e1b"/>
<rect x="1758.1" y="529.68" width="87.2" height="12.95" fill="#aa332a"/>
<rect x="1845.3" y="529.68" width="66.7" height="12.95" fill="#1e6e1b"/>
<rect x="1732" y="545.91" width="112.8" height="12.95" fill="#ea4338"/>
<rect x="1844.8" y="545.91" width="67.2" height="12.95" fill="#259122"/>
<rect x="1826.1" y="562.15" width="54.2" height="12.95" fill="#aa332a"/>
<rect x="1880.3" y="562.15" width="31.7" height="12.95" fill="#1e6e1b"/>
<rect x="1804.1" y="578.38" width="50.4" height="12.95" fill="#aa332a"/>
<rect x="1854.5" y="578.38" width="57.5" height="12.95" fill="#1e6e1b"/>
<rect x="1818.6" y="594.61" width="47.2" height="12.95" fill="#aa332a"/>
<rect x="1865.8" y="594.61" width="46.2" height="12.95" fill="#1e6e1b"/>
<rect x="1796.6" y="610.84" width="75.2" height="12.95" fill="#aa332a"/>
<rect x="1871.8" y="610.84" width="40.2" height="12.95" fill="#1e6e1b"/>
<rect x="1843" y="627.08" width="37.9" height="12.95" fill="#aa332a"/>
<rect x="1880.9" y="627.08" width="31.1" height="12.95" fill="#1e6e1b"/>
<rect x="1873.8" y="643.31" width="22.7" height="12.95" fill="#aa332a"/>
<rect x="1896.5" y="643.31" width="15.5" height="12.95" fill="#1e6e1b"/>
<rect x="1849.9" y="659.54" width="29.7" height="12.95" fill="#aa332a"/>
<rect x="1879.6" y="659.54" width="32.4" height="12.95" fill="#1e6e1b"/>
<rect x="1817.3" y="675.77" width="54.3" height="12.95" fill="#aa332a"/>
<rect x="1871.6" y="675.77" width="40.4" height="12.95" fill="#1e6e1b"/>
<rect x="1798.6" y="692.01" width="61.6" height="12.95" fill="#ea4338"/>
<rect x="1860.2" y="692.01" width="51.8" height="12.95" fill="#259122"/>
<rect x="1804" y="708.24" width="44.9" height="12.95" fill="#65282f"/>
<rect x="1848.9" y="708.24" width="63.1" height="12.95" fill="#3f4a24"/>
<rect x="1753.9" y="724.47" width="60.9" height="12.95" fill="#65282f"/>
<rect x="1814.8" y="724.47" width="97.2" height="12.95" fill="#3f4a24"/>
<rect x="1792.2" y="740.7" width="69.9" height="12.95" fill="#65282f"/>
<rect x="1862.1" y="740.7" width="49.9" height="12.95" fill="#3f4a24"/>
<rect x="1864" y="756.94" width="36.8" height="12.95" fill="#65282f"/>
<rect x="1900.8" y="756.94" width="11.2" height="12.95" fill="#3f4a24"/>
<rect x="1908.2" y="773.17" width="3.8" height="12.95" fill="#65282f"/>
</g>
<rect x="1872" y="399.82" width="7.2" height="12.95" fill="#4a6cc9"/>
<text x="1875.6" y="407.72" font-family="'Liberation Sans', sans-serif" font-weight="bold" font-size="3.6" fill="#ffffff" text-anchor="middle">VAH</text>
<rect x="1724" y="545.91" width="8" height="12.95" fill="#d3b65e"/>
<text x="1728" y="553.81" font-family="'Liberation Sans', sans-serif" font-weight="bold" font-size="3.6" fill="#ffffff" text-anchor="middle">POC</text>
<rect x="1791.2" y="692.01" width="7.4" height="12.95" fill="#c74fc9"/>
<text x="1794.9" y="699.91" font-family="'Liberation Sans', sans-serif" font-weight="bold" font-size="3.6" fill="#ffffff" text-anchor="middle">VAL</text>
<g font-family="'Liberation Sans', sans-serif" font-weight="bold" font-size="8.5" fill="#f4f4f6" text-anchor="end" stroke="#1b1e38" stroke-opacity="0.35" stroke-width="0.6" paint-order="stroke">
<text x="1902.3" y="197">83</text>
<text x="1902.3" y="214">1913</text>
<text x="1902.3" y="230">3294</text>
<text x="1902.3" y="246">5064</text>
<text x="1902.3" y="262">3388</text>
<text x="1902.3" y="278">1458</text>
<text x="1902.3" y="295">939</text>
<text x="1902.3" y="311">1323</text>
<text x="1902.3" y="327">1167</text>
<text x="1902.3" y="343">2509</text>
<text x="1902.3" y="360">3780</text>
<text x="1902.3" y="376">4735</text>
<text x="1902.3" y="392">4232</text>
<text x="1902.3" y="408">3979</text>
<text x="1902.3" y="425">10298</text>
<text x="1902.3" y="441">14377</text>
<text x="1902.3" y="457">16240</text>
<text x="1902.3" y="473">10803</text>
<text x="1902.3" y="489">12311</text>
<text x="1902.3" y="506">15407</text>
<text x="1902.3" y="522">21635</text>
<text x="1902.3" y="538">22167</text>
<text x="1902.3" y="554">25923</text>
<text x="1902.3" y="571">12372</text>
<text x="1902.3" y="587">15531</text>
<text x="1902.3" y="603">13446</text>
<text x="1902.3" y="619">16616</text>
<text x="1902.3" y="636">9933</text>
<text x="1902.3" y="652">5529</text>
<text x="1902.3" y="668">8963</text>
<text x="1902.3" y="684">13612</text>
<text x="1902.3" y="701">16358</text>
<text x="1902.3" y="717">15557</text>
<text x="1902.3" y="733">22782</text>
<text x="1902.3" y="749">17236</text>
<text x="1902.3" y="765">6890</text>
<text x="1902.3" y="782">558</text>
</g>
<g shape-rendering="crispEdges" stroke="#353950" stroke-width="1">
<line x1="8" y1="881.5" x2="1912" y2="881.5"/>
<line x1="960.5" y1="882" x2="960.5" y2="904"/>
</g>
<rect x="8" y="904" width="1904" height="1.6" fill="#2f3349"/>
<rect x="136.2" y="903.4" width="1.6" height="1" fill="#3d4158"/>
<rect x="275.2" y="903.4" width="1.6" height="1" fill="#3d4158"/>
<rect x="415.2" y="903.4" width="1.6" height="1" fill="#3d4158"/>
<rect x="554.2" y="903.4" width="1.6" height="1" fill="#3d4158"/>
<rect x="694.2" y="903.4" width="1.6" height="1" fill="#3d4158"/>
<rect x="833.2" y="903.4" width="1.6" height="1" fill="#3d4158"/>
<rect x="973.2" y="903.4" width="1.6" height="1" fill="#3d4158"/>
<rect x="1112.2" y="903.4" width="1.6" height="1" fill="#3d4158"/>
<rect x="1251.2" y="903.4" width="1.6" height="1" fill="#3d4158"/>
<rect x="1391.2" y="903.4" width="1.6" height="1" fill="#3d4158"/>
<circle cx="44" cy="870.6" r="8" fill="url(#gg)"/>
<path d="M39.8 867.8h8.4l-4.2 6.6z" fill="#27ab22"/>
<circle cx="183" cy="870.6" r="8" fill="url(#gg)"/>
<path d="M178.8 867.8h8.4l-4.2 6.6z" fill="#27ab22"/>
<circle cx="323" cy="870.6" r="8" fill="url(#gg)"/>
<path d="M318.8 867.8h8.4l-4.2 6.6z" fill="#27ab22"/>
<circle cx="927" cy="870.6" r="8" fill="url(#gr)"/>
<path d="M922.8 873.6h8.4l-4.2 -6.6z" fill="#f0483c"/>
<circle cx="1159" cy="870.6" r="8" fill="url(#gg)"/>
<path d="M1154.8 867.8h8.4l-4.2 6.6z" fill="#27ab22"/>
<circle cx="1299" cy="870.6" r="8" fill="url(#gg)"/>
<g fill="none" stroke="#27ab22" stroke-width="0.8" stroke-linejoin="round"><path d="M1295.3 868.4l3.7 -1.9l3.7 1.9l-3.7 1.9z" fill="#27ab22"/><path d="M1295.3 870.5l3.7 1.9l3.7 -1.9"/><path d="M1295.3 872.4l3.7 1.9l3.7 -1.9"/></g>
<circle cx="1392" cy="870.6" r="8" fill="url(#gg)"/>
<path d="M1387.8 867.8h8.4l-4.2 6.6z" fill="#27ab22"/>
<g font-family="'Liberation Sans', sans-serif" font-size="13" fill="#5b5f73" text-anchor="middle">
<text x="132.4" y="919.2">02-25 22:50</text>
<text x="273.9" y="919.2">09:05</text>
<text x="413.9" y="919.2">09:20</text>
<text x="552.9" y="919.2">09:35</text>
<text x="692.9" y="919.2">09:50</text>
<text x="831.9" y="919.2">10:05</text>
<text x="971.9" y="919.2">10:35</text>
<text x="1110.9" y="919.2">10:50</text>
<text x="1249.9" y="919.2">11:05</text>
<text x="1389.9" y="919.2">11:20</text>
</g>
<text x="483.8" y="897.4" font-family="'Liberation Sans', 'Noto Sans CJK SC', sans-serif" font-size="13" font-weight="bold" fill="#4668cf" text-anchor="middle">信号点</text>
<text x="1436.2" y="898.3" font-family="'Liberation Sans', sans-serif" font-size="13" fill="#9c9eab" stroke="#9c9eab" stroke-width="0.3" text-anchor="middle">Cum Delta</text>
</svg>
<div class="hdr">
  <svg class="deco" width="40" height="8" viewBox="0 0 40 8"><path d="M0 0H23.6L19.4 5H0Z" fill="#202644"/><path d="M27.2 0H32L27.6 5H22.2Z" fill="#243462"/></svg>
  <div class="title">实时订单流</div>
  <svg class="qm" width="16" height="16" viewBox="0 0 16 16"><circle cx="8" cy="8" r="7.3" fill="none" stroke="#5b5f73" stroke-width="1"/><text x="8" y="11.6" font-size="10" text-anchor="middle" fill="#5b5f73" font-family="'Liberation Sans',sans-serif">?</text></svg>
  <div class="tabs"><span>1分</span><span class="on">5分<i></i></span><span>15分</span><span>30分</span><span>1小时</span><span>日</span></div>
  <svg class="fold" width="16" height="16" viewBox="0 0 16 16" fill="#9a9cb0" stroke="#9a9cb0" stroke-width="1" stroke-linecap="round"><path d="M14.6 2.2L10 6.8" fill="none"/><path d="M9.1 3.9v4h4z" stroke="none"/><path d="M2.2 14.8L6.8 10.2" fill="none"/><path d="M7.9 13.1v-4h-4z" stroke="none"/></svg>
  <div class="line"></div>
</div>
<div class="sel"><span class="nm">甲醇<b>2505</b></span><span class="px">2516.00</span><span class="pc">-1.60%</span>
  <svg width="14" height="10" viewBox="0 0 14 10"><path d="M1.2 1.6L7 7.6L12.8 1.6" fill="none" stroke="#a6a8b6" stroke-width="1.1"/></svg></div>
<div class="tools">
  <span style="left:-154px">参数设置</span>
  <span style="left:-98px;width:1px;height:10px;top:4px;background:#3a3e57"></span>
  <span style="left:-90px">自定义量价</span>
  <svg style="position:absolute;left:-26px;top:3px" width="12" height="12" viewBox="0 0 12 12"><path d="M6 1.1L10.25 3.55V8.45L6 10.9L1.75 8.45V3.55Z" fill="none" stroke="#d2d2da" stroke-width="1.15"/><circle cx="6" cy="6" r="1.05" fill="#d2d2da"/></svg>
</div>
<div class="btn" style="top:110px;height:16px"><svg style="display:block" width="15" height="16" viewBox="0 0 15 16"><path d="M5.9 4.1L9.9 7.9L5.9 11.7" fill="none" stroke="#cfd0da" stroke-width="1.1"/></svg></div>
<div class="btn" style="top:127px;height:15px"><svg style="display:block" width="15" height="15" viewBox="0 0 15 15"><text x="7.6" y="11.6" font-size="10" text-anchor="middle" fill="#cfd0da" font-family="'Liberation Sans',sans-serif">?</text></svg></div>
</body>
</html>
